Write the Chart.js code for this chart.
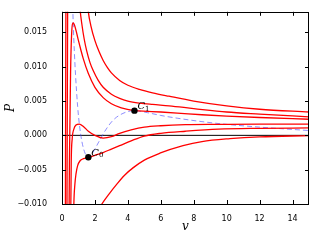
<!DOCTYPE html>
<html>
<head>
<meta charset="utf-8">
<script src="https://cdn.jsdelivr.net/npm/chart.js@4.4.1/dist/chart.umd.min.js"></script>
<style>
  html, body { margin: 0; padding: 0; background: #fff; }
  #wrap { width: 316px; height: 241px; }
</style>
</head>
<body>
<div id="wrap"><canvas id="pv" width="316" height="241"></canvas></div>
<script>
// isotherms (values beyond the frame are only there to steer the curve)
var isoA_v = [0.19, 0.25, 0.7, 1.3, 1.6, 1.75, 2.0, 2.25, 2.5, 2.75, 3.0, 3.5, 4.0, 4.7, 5.5, 6.5, 8.0, 10.0, 12.0, 15.0];
var isoA_P = [-0.03, 0.03, 0.05, 0.026, 0.0180, 0.0160, 0.0138, 0.0122, 0.0109, 0.0099, 0.0091, 0.0080, 0.0073, 0.0067, 0.0062, 0.0057, 0.0050, 0.0043, 0.0038, 0.0034];

var isoB_v = [0.28, 0.36, 0.7, 1.0, 1.1, 1.2, 1.35, 1.5, 1.7, 1.9, 2.2, 2.5, 3.0, 3.5, 4.0, 4.7, 5.5, 6.5, 8.0, 10.0, 12.0, 15.0];
var isoB_P = [-0.03, 0.03, 0.04, 0.022, 0.0183, 0.0163, 0.0140, 0.0123, 0.0106, 0.0094, 0.0080, 0.0070, 0.0060, 0.0054, 0.0050, 0.0047, 0.0045, 0.0043, 0.0039, 0.0034, 0.0031, 0.0027];

var isoC_v = [0.38, 0.45, 0.52, 0.58, 0.68, 0.75, 0.85, 1.0, 1.15, 1.3, 1.6, 2.0, 2.5, 3.0, 3.6, 4.4, 5.2, 6.0, 7.0, 8.5, 10.0, 12.0, 15.0];
var isoC_P = [-0.03, -0.004, 0.009, 0.0145, 0.0164, 0.0161, 0.0153, 0.0138, 0.0124, 0.0111, 0.0090, 0.0070, 0.0055, 0.0046, 0.0040, 0.0036, 0.0035, 0.0034, 0.00325, 0.0030, 0.0028, 0.0026, 0.00235];

var isoD_v = [0.52, 0.56, 0.62, 0.72, 0.85, 1.05, 1.3, 1.6, 2.0, 2.5, 3.0, 3.5, 4.2, 5.0, 6.0, 7.5, 9.5, 12.0, 15.0];
var isoD_P = [-0.015, -0.004, -0.0005, 0.0009, 0.0015, 0.00165, 0.0013, 0.0006, 0.0000, -0.0004, -0.0002, 0.0003, 0.0008, 0.0012, 0.0014, 0.00155, 0.0016, 0.00164, 0.00164];

var isoE_v = [0.68, 0.72, 0.78, 0.85, 0.95, 1.1, 1.3, 1.6, 2.0, 2.5, 3.0, 3.5, 4.2, 5.0, 6.0, 7.5, 9.5, 12.0, 15.0];
var isoE_P = [-0.016, -0.0100, -0.0072, -0.0056, -0.0044, -0.0037, -0.0034, -0.0032, -0.0029, -0.0025, -0.0020, -0.0015, -0.0008, -0.0001, 0.0003, 0.0006, 0.0009, 0.00102, 0.00108];

var isoF_v = [2.0, 2.42, 2.9, 3.33, 3.8, 4.33, 5.0, 5.94, 7.35, 8.5, 10.2, 12.0, 15.0];
var isoF_P = [-0.0118, -0.0100, -0.0084, -0.0071, -0.0058, -0.0047, -0.0036, -0.0026, -0.0015, -0.0009, -0.00048, -0.00022, -0.00004];

// dashed locus through the extrema
var locus_v = [0.64, 0.68, 0.75, 0.82, 0.95, 1.05, 1.2, 1.4, 1.6, 1.85, 2.2, 2.6, 3.1, 3.7, 4.4, 5.2, 6.0, 7.0, 8.5, 10.0, 12.0, 15.0];
var locus_P = [0.020, 0.0164, 0.0122, 0.0089, 0.0042, 0.0017, -0.0008, -0.0026, -0.0032, -0.0026, -0.0011, 0.0006, 0.0022, 0.0032, 0.0036, 0.0033, 0.0029, 0.0025, 0.0020, 0.0016, 0.0012, 0.0007];

// critical points C0, C1
var crit_v = [1.6, 4.4];
var crit_P = [-0.0032, 0.0036];
var crit_sub = ['0', '1'];

var zero_v = [0, 15];
var zero_P = [0, 0];

var xTicks = [0, 2, 4, 6, 8, 10, 12, 14];
var yTicks = [-0.010, -0.005, 0.000, 0.005, 0.010, 0.015];

function pts(vs, ps) {
    return vs.map(function(v, i) { return {x: v, y: ps[i]}; });
}

function iso(vs, ps) {
    return {
        data: pts(vs, ps),
        showLine: true,
        pointRadius: 0,
        borderColor: '#ff0000',
        borderWidth: 1.3,
        cubicInterpolationMode: 'monotone'
    };
}

// inward ticks on all four sides plus the box
var frameTicks = {
    id: 'frameTicks',
    afterDatasetsDraw: function(chart) {
        var ctx = chart.ctx, a = chart.chartArea;
        var sx = chart.scales.x, sy = chart.scales.y;
        ctx.save();
        ctx.strokeStyle = '#000';
        ctx.lineWidth = 1;
        ctx.beginPath();
        xTicks.forEach(function(t) {
            var px = Math.round(sx.getPixelForValue(t)) + 0.5;
            ctx.moveTo(px, a.bottom); ctx.lineTo(px, a.bottom - 4);
            ctx.moveTo(px, a.top); ctx.lineTo(px, a.top + 4);
        });
        yTicks.forEach(function(t) {
            var py = Math.round(sy.getPixelForValue(t)) + 0.5;
            ctx.moveTo(a.left, py); ctx.lineTo(a.left + 4, py);
            ctx.moveTo(a.right, py); ctx.lineTo(a.right - 4, py);
        });
        ctx.stroke();
        ctx.strokeRect(Math.round(a.left) + 0.5, Math.round(a.top) + 0.5,
                       Math.round(a.right - a.left) - 1, Math.round(a.bottom - a.top));
        ctx.restore();
    }
};

// C_0 / C_1 labels next to the points
var critLabels = {
    id: 'critLabels',
    afterDraw: function(chart) {
        var ctx = chart.ctx;
        var sx = chart.scales.x, sy = chart.scales.y;
        ctx.save();
        ctx.fillStyle = '#000';
        ctx.textBaseline = 'alphabetic';
        crit_v.forEach(function(v, i) {
            var px = sx.getPixelForValue(v) + 3;
            var py = sy.getPixelForValue(crit_P[i]) - 1.5;
            ctx.font = 'italic 10px "DejaVu Serif"';
            ctx.fillText('C', px, py);
            var w = ctx.measureText('C').width;
            ctx.font = '7px "DejaVu Serif"';
            ctx.fillText(crit_sub[i], px + w, py + 1.5);
        });
        ctx.restore();
    }
};

var datasets = [
    {
        data: pts(crit_v, crit_P),
        pointRadius: 3.2,
        pointBackgroundColor: '#000',
        pointBorderWidth: 0,
        showLine: false
    },
    iso(isoA_v, isoA_P),
    iso(isoB_v, isoB_P),
    iso(isoC_v, isoC_P),
    iso(isoD_v, isoD_P),
    iso(isoE_v, isoE_P),
    iso(isoF_v, isoF_P),
    {
        data: pts(locus_v, locus_P),
        showLine: true,
        pointRadius: 0,
        borderColor: 'rgba(80, 80, 255, 0.65)',
        borderWidth: 1,
        borderDash: [5, 3],
        cubicInterpolationMode: 'monotone'
    },
    {
        data: pts(zero_v, zero_P),
        showLine: true,
        pointRadius: 0,
        borderColor: '#000',
        borderWidth: 1
    }
];

var ctx = document.getElementById('pv').getContext('2d');
var pvChart = new Chart(ctx, {
    type: 'scatter',
    data: { datasets: datasets },
    options: {
        responsive: false,
        animation: false,
        devicePixelRatio: 1,
        layout: { padding: { top: 5, right: 7, left: 0, bottom: 0 } },
        plugins: {
            legend: { display: false },
            tooltip: { enabled: false }
        },
        scales: {
            x: {
                type: 'linear',
                min: 0,
                max: 15,
                grid: { display: false },
                border: { display: false },
                ticks: {
                    stepSize: 2,
                    includeBounds: false,
                    padding: 2,
                    color: '#000',
                    font: { family: 'DejaVu Sans', size: 8 },
                    maxRotation: 0
                },
                title: {
                    display: true,
                    text: 'v',
                    color: '#000',
                    font: { family: 'DejaVu Serif', style: 'italic', size: 12 },
                    padding: { top: 0, bottom: 7 }
                },
                afterFit: function(s) { s.height = 37; }
            },
            y: {
                type: 'linear',
                min: -0.010,
                max: 0.018,
                grid: { display: false },
                border: { display: false },
                ticks: {
                    stepSize: 0.005,
                    includeBounds: false,
                    padding: 7,
                    color: '#000',
                    font: { family: 'DejaVu Sans', size: 8 },
                    callback: function(val) {
                        if (Math.abs(val) < 1e-9) return '0.000';
                        return (val < 0 ? '\u2212' : '') + Math.abs(val).toFixed(3);
                    }
                },
                title: {
                    display: true,
                    text: 'P',
                    color: '#000',
                    font: { family: 'DejaVu Serif', style: 'italic', size: 12 },
                    padding: { top: 4, bottom: 0 }
                },
                afterFit: function(s) { s.width = 62; }
            }
        }
    },
    plugins: [frameTicks, critLabels]
});
</script>
</body>
</html>
